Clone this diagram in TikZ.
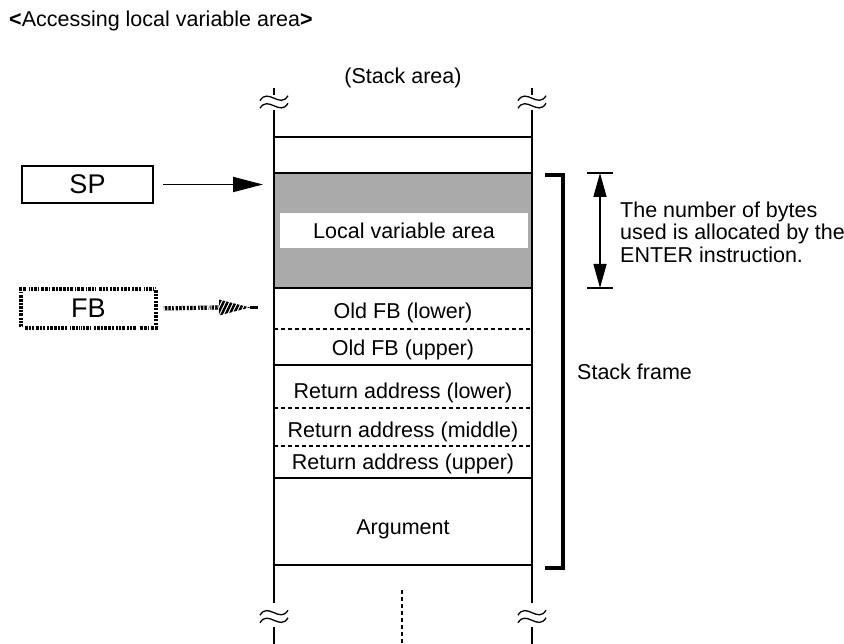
\documentclass[tikz,border=0pt]{standalone}
\usepackage{fontspec}
\setmainfont{Liberation Sans}
\usetikzlibrary{arrows.meta}
\definecolor{areagray}{RGB}{170,170,170}
\tikzset{
  txt/.style={inner sep=0pt, font=\fontsize{21.5}{25}\selectfont},
  stackline/.style={line width=1.4},
  cellsep/.style={line width=1.2, dash pattern=on 4 off 3},
  regbox/.style={draw, line width=1.5, minimum width=131, minimum height=37, inner sep=0pt, font=\fontsize{27}{30}\selectfont},
  hatch/.style={line width=4.2, draw=black, dash pattern=on 10 off 1.5,
    postaction={draw=white, line width=4.2, dash pattern=on 1 off 2.6}},
  tilde/.pic={\draw[line width=1.3] (-14,2.5) .. controls (-6,-11) and (6,11) .. (14,-2.5);},
  brk/.pic={\pic at (0,-3.8) {tilde}; \pic at (0,3.8) {tilde};}
}
\begin{document}
\begin{tikzpicture}[x=1pt,y=-1pt]
\useasboundingbox (0,0) rectangle (844,644);

% title
\node[txt, anchor=base west] (title) at (9,27) {\textbf{<}Accessing local variable area\textbf{>}};
\node[txt] (stackarea) at (403,78) {(Stack area)};

% stack side lines with breaks
\foreach \x in {274,532}{
  \draw[stackline] (\x,88) -- (\x,95);
  \draw[stackline] (\x,110) -- (\x,603);
  \draw[stackline] (\x,627) -- (\x,644);
  \pic at (\x,102) {brk};
  \pic at (\x,616.5) {brk};
}

% cells
\draw[stackline] (274,137) -- (532,137);
\draw[stackline, fill=areagray] (274,173) rectangle (532,288);
\node[fill=white, minimum width=248, minimum height=35, inner sep=0pt, font=\fontsize{21.5}{25}\selectfont] (local) at (404,230.5) {Local variable area};
\draw[cellsep] (274,329) -- (532,329);
\draw[stackline] (274,365) -- (532,365);
\draw[cellsep] (274,408) -- (532,408);
\draw[cellsep] (274,446) -- (532,446);
\draw[stackline] (274,478) -- (532,478);
\draw[stackline] (274,565) -- (532,565);
\draw[cellsep] (402,590) -- (402,644);

\node[txt] (oldfbl) at (403,313) {Old FB (lower)};
\node[txt] (oldfbu) at (403,350) {Old FB (upper)};
\node[txt] (retl) at (403,393) {Return address (lower)};
\node[txt] (retm) at (403,432) {Return address (middle)};
\node[txt] (retu) at (403,464) {Return address (upper)};
\node[txt] (arg) at (403,529) {Argument};

% SP
\node[regbox] (sp) at (87.5,184.5) {SP};
\coordinate (sptip) at (263,184.5);
\draw[line width=1.9, -{Triangle[length=30, width=15]}, shorten <=9] (sp.east) -- (sptip);

% FB
\node[regbox, draw=none, minimum width=133] (fb) at (88.5,308.5) {FB};
\draw[hatch] (fb.south west) rectangle (fb.north east);
\coordinate (fbhead) at (219,307.5);
\draw[hatch, shorten <=8] (fb.east) -- (fbhead);
\begin{scope}
  \clip (fbhead) ++(0,-8) -- (250,307.5) -- (219,315.5) -- cycle;
  \foreach \k in {0,4,...,40}{
    \draw[line width=2.4] (212+\k,318) -- (222+\k,297);
  }
\end{scope}
\draw[line width=2.5] (250,307.5) -- (258,307.5);

% stack frame bracket
\draw[line width=4, line join=miter, line cap=butt] (545,175) -- (563,175) -- (563,568) -- (545,568);
\node[txt, anchor=west] (frame) at (577,372) {Stack frame};

% dimension arrow
\coordinate (dtop) at (600,173);
\coordinate (dbot) at (600,288);
\draw[line width=1.5] (587,173) -- (613,173);
\draw[line width=1.5] (587,288) -- (613,288);
\draw[line width=1.5, {Triangle[length=24, width=13]}-{Triangle[length=24, width=13]}] (dtop) -- (dbot);
\node[txt, anchor=west, align=left, font=\fontsize{21.5}{22.5}\selectfont] (note) at (620,232) {The number of bytes\\used is allocated by the\\ENTER instruction.};
\end{tikzpicture}
\end{document}
